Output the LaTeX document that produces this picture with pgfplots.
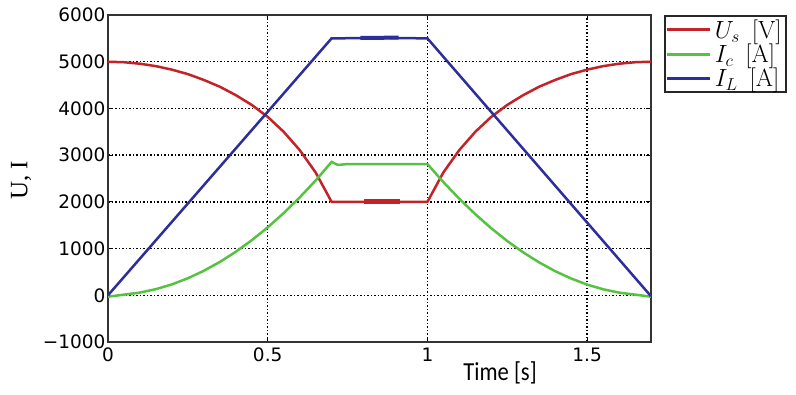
\documentclass[border=0pt]{standalone}
\usepackage{pgfplots}
\pgfplotsset{compat=1.18}
\usepackage[no-math]{fontspec}
\setmainfont{DejaVu Sans}
\newfontfamily\carlito{Carlito}
\newfontfamily\serifone{Liberation Serif}
\definecolor{cred}{RGB}{195,35,40}
\definecolor{cgreen}{RGB}{85,195,65}
\definecolor{cblue}{RGB}{45,45,155}
\begin{document}
\begin{tikzpicture}[x=1pt,y=1pt]
\path (0,0) rectangle (796,394);
\begin{axis}[
  at={(108pt,52pt)}, anchor=south west,
  scale only axis, width=543pt, height=327pt,
  xmin=0, xmax=1.7, ymin=-1000, ymax=6000,
  xtick={0,0.5,1,1.5}, xticklabels={0,0.5,1,1.5},
  ytick={-1000,0,1000,2000,3000,4000,5000,6000},
  yticklabels={−1000,0,1000,2000,3000,4000,5000,6000},
  tick label style={font=\fontsize{18.5}{18.5}\selectfont},
  yticklabel style={xshift=1pt},
  xticklabel style={yshift=-2pt},
  grid=major,
  major grid style={black, line width=1.5pt, dash pattern=on 2pt off 2pt on 1pt off 2pt},
  axis line style={black!80, line width=1.8pt},
  tick style={black, line width=1.2pt},
  major tick length=5pt,
  xlabel={\scalebox{0.87}[1]{\carlito\fontsize{26}{26}\selectfont Time [s]}},
  xlabel style={at={(axis description cs:0.722,-0.095)}, anchor=center},
  ylabel={\serifone\fontsize{25}{25}\selectfont U, I},
  ylabel style={at={(axis description cs:-0.16,0.495)}, anchor=center},
  legend style={at={(1.024,1)}, anchor=north west, draw=black!85, line width=1.8pt,
    font=\fontsize{24}{24}\selectfont, row sep=-2pt, inner sep=1pt,
    nodes={inner sep=3pt}},
  legend cell align=left,
  legend image code/.code={\draw[#1, line width=3pt] (0pt,0pt) -- (43pt,0pt);},
  every axis plot/.append style={line width=2.5pt},
]
\addplot[cred] coordinates {
(0,5000)(0.05,4989)(0.1,4957)(0.15,4905)(0.2,4830)(0.25,4735)(0.3,4610)(0.35,4465)
(0.4,4285)(0.45,4075)(0.5,3820)(0.55,3500)(0.6,3110)(0.65,2630)(0.7,2000)
(1.0,2000)
(1.05,2630)(1.1,3110)(1.15,3500)(1.2,3820)(1.25,4075)(1.3,4285)(1.35,4465)(1.4,4610)
(1.45,4735)(1.5,4830)(1.55,4905)(1.6,4957)(1.65,4989)(1.7,5000)};
\addlegendentry{$U_s\enspace[\mathrm{V}]$}
\addplot[cgreen] coordinates {
(0,-30)(0.05,14)(0.1,58)(0.15,131)(0.2,233)(0.25,364)(0.3,524)(0.35,713)(0.4,931)
(0.45,1178)(0.5,1454)(0.55,1759)(0.6,2094)(0.65,2457)(0.7,2855)(0.72,2790)(0.75,2810)
(1.0,2810)
(1.05,2423)(1.1,2065)(1.15,1735)(1.2,1434)(1.25,1161)(1.3,918)(1.35,703)(1.4,516)
(1.45,359)(1.5,229)(1.55,129)(1.6,57)(1.65,14)(1.7,-30)};
\addlegendentry{$I_c\enspace[\mathrm{A}]$}
\addplot[cblue] coordinates {
(0,0)(0.7,5500)(0.79,5505)(0.85,5510)(1.0,5500)(1.7,-20)};
\addlegendentry{$I_L\enspace[\mathrm{A}]$}
\addplot[cred, line width=5pt, forget plot] coordinates {(0.80,2010)(0.915,2010)};
\addplot[cblue, line width=4pt, forget plot] coordinates {(0.79,5510)(0.91,5515)};
\end{axis}
\end{tikzpicture}
\end{document}
